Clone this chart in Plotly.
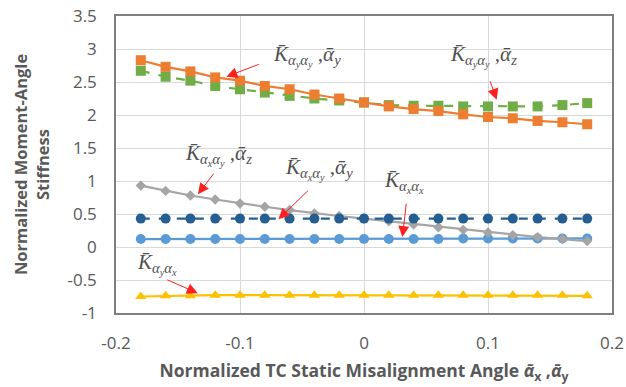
import plotly.graph_objects as go

x_vals = [-0.18, -0.16, -0.14, -0.12, -0.10, -0.08, -0.06, -0.04, -0.02, 0.0,
          0.02, 0.04, 0.06, 0.08, 0.10, 0.12, 0.14, 0.16, 0.18]

k_yy_ay = [2.83, 2.73, 2.66, 2.57, 2.52, 2.44, 2.39, 2.31, 2.25, 2.19,
           2.13, 2.09, 2.06, 2.01, 1.97, 1.95, 1.91, 1.89, 1.86]
k_yy_az = [2.67, 2.58, 2.52, 2.44, 2.39, 2.34, 2.29, 2.25, 2.22, 2.19,
           2.15, 2.14, 2.14, 2.13, 2.13, 2.13, 2.13, 2.15, 2.18]
k_xy_az = [0.93, 0.85, 0.78, 0.72, 0.66, 0.61, 0.56, 0.51, 0.47, 0.43,
           0.39, 0.34, 0.30, 0.26, 0.22, 0.18, 0.15, 0.12, 0.09]
k_xy_ay = [0.43] * 19
k_xx = [0.12, 0.12, 0.12, 0.12, 0.12, 0.12, 0.12, 0.12, 0.12, 0.12,
        0.12, 0.12, 0.12, 0.13, 0.13, 0.13, 0.13, 0.13, 0.13]
k_yx = [-0.75, -0.74, -0.74, -0.73, -0.73, -0.73, -0.73, -0.73, -0.73, -0.73,
        -0.73, -0.73, -0.73, -0.73, -0.73, -0.73, -0.73, -0.73, -0.74]

x_ticks = [-0.2, -0.1, 0.0, 0.1, 0.2]
x_ticktext = ["-0.2", "-0.1", "0", "0.1", "0.2"]
y_ticks = [-1, -0.5, 0, 0.5, 1, 1.5, 2, 2.5, 3, 3.5]
y_ticktext = ["-1", "-0.5", "0", "0.5", "1", "1.5", "2", "2.5", "3", "3.5"]

fig = go.Figure()

def add(y, color, symbol, size, dash):
    fig.add_trace(go.Scatter(
        x=x_vals, y=y, mode="lines+markers",
        line=dict(color=color, width=2.2, dash=dash),
        marker=dict(color=color, symbol=symbol, size=size),
        showlegend=False, hoverinfo="skip"))

add(k_yx, "#FFC000", "triangle-up", 10, "solid")
add(k_xx, "#5B9BD5", "circle", 10, "solid")
add(k_xy_az, "#A5A5A5", "diamond", 8, "solid")
add(k_xy_ay, "#255E91", "circle", 10, "dash")
add(k_yy_az, "#70AD47", "square", 10, "dash")
add(k_yy_ay, "#ED7D31", "square", 10, "solid")

M = "\u0304"
def label(a, b, c):
    return ("<i>K" + M + "<sub>α<sub>" + a + "</sub>α<sub>" + b + "</sub></sub>" +
            ("" if c is None else " ,α" + M + "<sub>" + c + "</sub>") + "</i>")

texts = [
    (label("y", "y", "y"), -0.046, 2.89),
    (label("y", "y", "z"), 0.096, 2.89),
    (label("x", "y", "z"), -0.117, 1.40),
    (label("x", "y", "y"), -0.036, 1.18),
    (label("x", "x", None), 0.032, 0.98),
    (label("y", "x", None), -0.167, -0.26),
]
for t, tx, ty in texts:
    fig.add_annotation(x=tx, y=ty, text=t, showarrow=False,
                       font=dict(family="Liberation Serif", size=21, color="#505050"))

arrows = [(-0.111, 2.58, 34, -13), (0.107, 2.23, -7, -20), (-0.134, 0.80, 17, -22),
          (-0.069, 0.42, 31, -30), (0.031, 0.15, 4, -35), (-0.134, -0.70, -32, -14)]
for axx, ayy, dx, dy in arrows:
    fig.add_annotation(x=axx, y=ayy, ax=dx, ay=dy, text="", showarrow=True,
                       arrowhead=2, arrowsize=2.2, arrowwidth=1, arrowcolor="#FF2020",
                       standoff=0)

axis_font = dict(family="Open Sans", size=17, color="#595959")
fig.update_layout(
    width=626, height=387,
    margin=dict(l=116, r=14, t=16, b=74),
    paper_bgcolor="white", plot_bgcolor="white",
    xaxis=dict(range=[-0.2, 0.2], tickvals=x_ticks, ticktext=x_ticktext,
               showgrid=True, gridcolor="#D9D9D9", zeroline=False, automargin=False,
               showline=True, mirror=True, linecolor="#7F7F7F", linewidth=1.5,
               tickfont=axis_font, ticks="", ticklabelstandoff=14,
               title=dict(text="<b>Normalized TC Static Misalignment Angle <i>α" + M + "</i><sub>x</sub> ,<i>α" + M + "</i><sub>y</sub></b>",
                          font=dict(family="Open Sans", size=17.5, color="#595959"), standoff=12)),
    yaxis=dict(range=[-1, 3.5], tickvals=y_ticks, ticktext=y_ticktext,
               showgrid=True, gridcolor="#D9D9D9", zeroline=False, automargin=False,
               showline=True, mirror=True, linecolor="#7F7F7F", linewidth=1.5,
               tickfont=axis_font, ticks="", ticklabelstandoff=14,
               title=dict(text="<b>Normalized Moment-Angle<br>Stiffness</b>",
                          font=dict(family="Open Sans", size=16.5, color="#595959"), standoff=14)),
)

fig.write_html("out.html")
